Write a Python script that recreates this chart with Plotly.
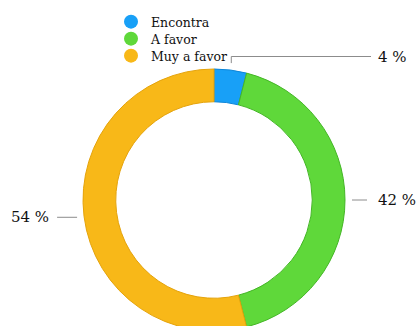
import math
import plotly.graph_objects as go

# Survey answers
categories = ["Encontra", "A favor", "Muy a favor"]
values = [4, 42, 54]

colors = ["#18a0f7", "#5fd83a", "#f8b818"]
edge_colors = ["#0e86d8", "#44b626", "#e5a30b"]

W, H = 419, 332
CX, CY, R = 214, 200, 131          # ring centre and outer radius (px)
FONT = "DejaVu Serif"
LINE_COLOR = "#8c8c8c"


def px(x):
    return x / W


def py(y):
    return 1 - y / H


fig = go.Figure()

fig.add_trace(go.Pie(
    labels=categories,
    values=values,
    sort=False,
    direction="clockwise",
    rotation=0,
    hole=0.75,
    marker=dict(colors=colors, line=dict(color=edge_colors, width=1)),
    textinfo="none",
    hoverinfo="label+percent",
    showlegend=False,
    domain=dict(x=[px(CX - R), px(CX + R)], y=[py(CY + R), py(CY - R)]),
))

# Legend entries with round markers, one legend per row
legend_names = ["legend", "legend2", "legend3"]
legend_rows = [22, 39, 56]
for name, col, lg in zip(categories, colors, legend_names):
    fig.add_trace(go.Scatter(
        x=[None], y=[None], mode="markers", name=name,
        marker=dict(color=col, size=14, symbol="circle"),
        legend=lg, showlegend=True, hoverinfo="skip",
    ))

legend_layout = {}
for lg, yrow in zip(legend_names, legend_rows):
    legend_layout[lg] = dict(
        x=px(111), y=py(yrow), xanchor="left", yanchor="middle",
        bgcolor="rgba(0,0,0,0)", borderwidth=0,
        font=dict(family=FONT, size=12.5, color="#111111"),
        itemclick=False, itemdoubleclick=False,
    )

# Leader lines and value labels, anchored at each slice's mid-angle
total = sum(values)
shapes, annotations = [], []
cum = 0
for i, v in enumerate(values):
    mid = (cum + v / 2) / total * 2 * math.pi
    cum += v
    ax = CX + (R + 7) * math.sin(mid)
    ay = CY - (R + 7) * math.cos(mid)
    text = f"{v} %"
    if i == 0:
        top_y = 56.5
        path = f"M {px(ax)},{py(ay)} L {px(ax)},{py(top_y)} L {px(371)},{py(top_y)}"
        shapes.append(dict(type="path", xref="paper", yref="paper", path=path,
                           line=dict(color=LINE_COLOR, width=1)))
        annotations.append(dict(x=px(376), y=py(top_y), text=text, xanchor="left",
                                yanchor="middle", showarrow=False))
    elif math.sin(mid) >= 0:
        shapes.append(dict(type="line", xref="paper", yref="paper",
                           x0=px(ax), y0=py(ay), x1=px(ax + 15), y1=py(ay),
                           line=dict(color=LINE_COLOR, width=1)))
        annotations.append(dict(x=px(ax + 24), y=py(ay), text=text, xanchor="left",
                                yanchor="middle", showarrow=False))
    else:
        shapes.append(dict(type="line", xref="paper", yref="paper",
                           x0=px(ax), y0=py(ay), x1=px(ax - 20), y1=py(ay),
                           line=dict(color=LINE_COLOR, width=1)))
        annotations.append(dict(x=px(ax - 26), y=py(ay), text=text, xanchor="right",
                                yanchor="middle", showarrow=False))

for a in annotations:
    a["font"] = dict(family=FONT, size=15, color="#111111")
    a["xref"] = "paper"
    a["yref"] = "paper"

fig.update_layout(
    width=W, height=H,
    margin=dict(l=0, r=0, t=0, b=0),
    paper_bgcolor="white", plot_bgcolor="white",
    xaxis=dict(visible=False), yaxis=dict(visible=False),
    shapes=shapes, annotations=annotations,
    **legend_layout,
)

fig.write_html(
    "out.html",
    post_script="document.documentElement.style.overflow='hidden';"
                "document.body.style.overflow='hidden';document.body.style.margin='0';",
)
